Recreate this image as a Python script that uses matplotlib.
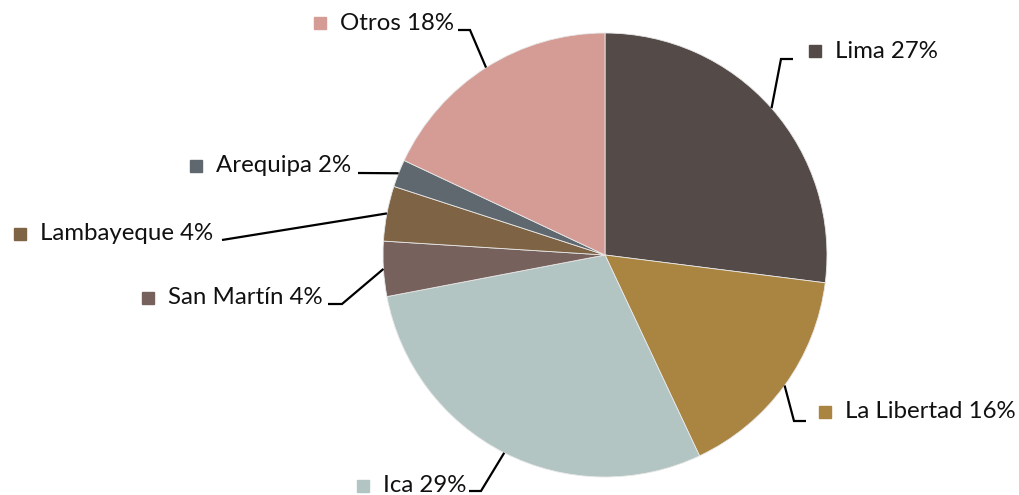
import matplotlib
matplotlib.use("Agg")
import matplotlib.pyplot as plt
import numpy as np

# data, clockwise from 12 o'clock
regions = ["Lima", "La Libertad", "Ica", "San Martín", "Lambayeque", "Arequipa", "Otros"]
shares = [27, 16, 29, 4, 4, 2, 18]
colors = ["#544A48", "#A98541", "#B2C5C2", "#77615C", "#7E6444", "#5F686E", "#D49C94"]

# label layout in pixels: (text left x, text y, elbow x, elbow y, line end x)
label_pos = {
    "Lima":        (835, 51, 781, 59, 793),
    "La Libertad": (845, 412, 794, 421, 806),
    "Ica":         (383, 486, 481, 491, 469),
    "San Martín":  (168, 298, 342, 304, 328),
    "Lambayeque":  (40, 234, 222, 240, 222),
    "Arequipa":    (216, 166, 360, 173, 358),
    "Otros":       (340, 23, 470, 30, 458),
}

W, H, CX, CY, R = 1020, 495, 605, 255, 222

def px(x, y):
    return (x - CX) / R, (CY - y) / R

plt.rcParams['font.family'] = ['Lato', 'DejaVu Sans']

fig = plt.figure(figsize=(W / 100, H / 100), dpi=100)
ax = fig.add_axes([0, 0, 1, 1])

wedges, _ = ax.pie(shares, colors=colors, startangle=90, counterclock=False,
                   radius=1, wedgeprops=dict(edgecolor="#e8e8e8", linewidth=0.6))

for w, name, val, c in zip(wedges, regions, shares, colors):
    mid = np.deg2rad((w.theta1 + w.theta2) / 2)
    ex, ey = np.cos(mid), np.sin(mid)
    tx, ty, bx, by, lx = label_pos[name]
    p1 = px(bx, by)
    p2 = px(lx, by)
    ax.plot([ex, p1[0], p2[0]], [ey, p1[1], p2[1]], color="black", lw=1.6,
            solid_capstyle="butt", solid_joinstyle="miter", zorder=3)
    sq = px(tx - 20, ty)
    ax.plot(sq[0], sq[1], marker="s", ms=9, color=c, mec=c, zorder=4)
    t = px(tx, ty)
    ax.text(t[0], t[1], f"{name} {val}%", fontsize=17.3, ha="left", va="center",
            color="#111111")

ax.set_xlim(-CX / R, (W - CX) / R)
ax.set_ylim(-(H - CY) / R, CY / R)
ax.set_aspect("auto")
ax.axis("off")

fig.savefig("out.png", dpi=100)
